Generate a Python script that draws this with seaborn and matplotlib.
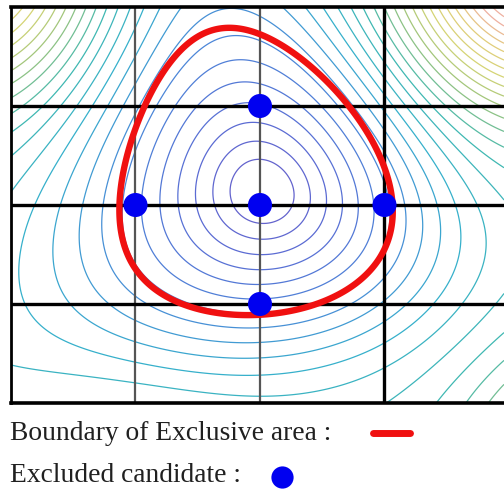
import numpy as np
import pandas as pd
import matplotlib
matplotlib.use("Agg")
import matplotlib.pyplot as plt
from matplotlib.colors import LinearSegmentedColormap
from matplotlib.lines import Line2D
import seaborn as sns

# Excluded candidates on the search lattice
cand_x = [2, 1, 2, 3, 2]
cand_y = [3, 2, 2, 2, 1]

# Samples along the boundary of the exclusive area (lattice units)
boundary_x = [1.78, 1.52, 1.25, 1.09, 0.96, 0.86, 0.85, 0.88, 0.98, 1.17, 1.38, 1.66, 1.96,
              2.19, 2.46, 2.72, 2.91, 3.04, 3.07, 3.07, 3.02, 2.88, 2.70, 2.46, 2.19, 1.92]
boundary_y = [3.80, 3.72, 3.39, 2.99, 2.56, 2.08, 1.98, 1.72, 1.41, 1.17, 1.01, 0.91, 0.86,
              0.91, 1.01, 1.17, 1.41, 1.68, 1.92, 2.05, 2.35, 2.69, 2.99, 3.33, 3.60, 3.77]

# Lattice lines
grid_x = [1, 2, 3]
grid_y = [1, 2, 3]

# Objective landscape: one basin, a flat rim and raised corners
basin_center = (2.02, 2.13)
cell_scale = (1.245, 0.99)          # lattice units -> isotropic units
plateau = 1.8
corner_highs = [                    # (x, y, height, width)
    (-0.37, 4.53, 1.7, 0.95),
    (4.29, 4.53, 2.5, 0.95),
    (4.9, -0.9, 1.7, 0.9),
    (0.8, -1.0, 0.25, 0.9),
]
level_step = 0.125
first_level = 0.24

sns.set_style("white")
plt.rcParams["font.family"] = ["Liberation Serif", "DejaVu Serif"]

fig = plt.figure(figsize=(5.04, 4.91), dpi=100)
ax = fig.add_axes([11 / 504, 88 / 491, 493 / 504, 396 / 491])

cx, cy = basin_center
sx, sy = cell_scale


def monomials(p, q):
    return np.stack([p * p, p * q, q * q, p ** 3, p * p * q, p * q * q, q ** 3], axis=-1)


# quadratic + cubic distance whose unit level follows the boundary samples
bp = (np.asarray(boundary_x) - cx) * sx
bq = (np.asarray(boundary_y) - cy) * sy
coef, *_ = np.linalg.lstsq(monomials(bp, bq), np.ones(len(bp)), rcond=None)

xs = np.linspace(0, 3.96, 500)
ys = np.linspace(0, 4.0, 500)
X, Y = np.meshgrid(xs, ys)
P = (X - cx) * sx
Q = (Y - cy) * sy
d2 = monomials(P, Q) @ coef
g = np.sqrt(np.clip(d2, 0, None))
basin = g / (1 + (g / plateau) ** 6) ** (1 / 6)

bumps = np.zeros_like(X)
for hx, hy, h, w in corner_highs:
    dist2 = ((X - hx) * sx) ** 2 + ((Y - hy) * sy) ** 2
    bumps += h * np.exp(-dist2 / (2 * w * w))
field = basin + bumps

cmap = LinearSegmentedColormap.from_list(
    "landscape",
    [(0.0, "#6a5cc8"), (0.15, "#5a6cd4"), (0.3, "#4a8ad8"), (0.42, "#36b0cc"),
     (0.54, "#40b8b0"), (0.66, "#9cc47c"), (0.78, "#d4d474"), (0.9, "#e2cc7a"),
     (1.0, "#eeb0a0")])

levels = np.arange(first_level, field.max(), level_step)
ax.contour(X, Y, field, levels=levels, cmap=cmap, vmin=0, vmax=3.5,
           linewidths=0.9, zorder=1)

for gx in grid_x:
    strong = gx == 3
    ax.axvline(gx, color="#000000" if strong else "#555555",
               lw=2.4 if strong else 1.6, zorder=2)
for gy in grid_y:
    ax.axhline(gy, color="#000000", lw=2.4, zorder=2)

ax.contour(X, Y, d2, levels=[1.0], colors="#f01010", linewidths=4.6, zorder=3)

cands = pd.DataFrame({"x": cand_x, "y": cand_y})
sns.scatterplot(data=cands, x="x", y="y", ax=ax, s=300, color="#0000f0",
                edgecolor="none", zorder=4, legend=False)

ax.set_xlim(0, 3.96)
ax.set_ylim(0, 4)
ax.set_xticks([])
ax.set_yticks([])
ax.set_xlabel("")
ax.set_ylabel("")
for side, lw in (("left", 2.0), ("top", 2.6), ("bottom", 2.6)):
    ax.spines[side].set_color("#000000")
    ax.spines[side].set_linewidth(lw)
    ax.spines[side].set_visible(True)
ax.spines["right"].set_visible(False)

# legend rows below the plot
fig.text(10 / 504, 1 - 434 / 491, "Boundary of Exclusive area :", fontsize=19.8,
         color="#202020", va="center", ha="left")
fig.text(10 / 504, 1 - 476 / 491, "Excluded candidate :", fontsize=19.8,
         color="#202020", va="center", ha="left")
fig.add_artist(Line2D([373 / 504, 410 / 504], [1 - 433 / 491, 1 - 433 / 491],
                      color="#f01010", lw=5, transform=fig.transFigure))
fig.add_artist(Line2D([282 / 504], [1 - 477 / 491], marker="o", markersize=16,
                      color="#0000f0", markeredgewidth=0, transform=fig.transFigure))

fig.savefig("out.png", dpi=100)
